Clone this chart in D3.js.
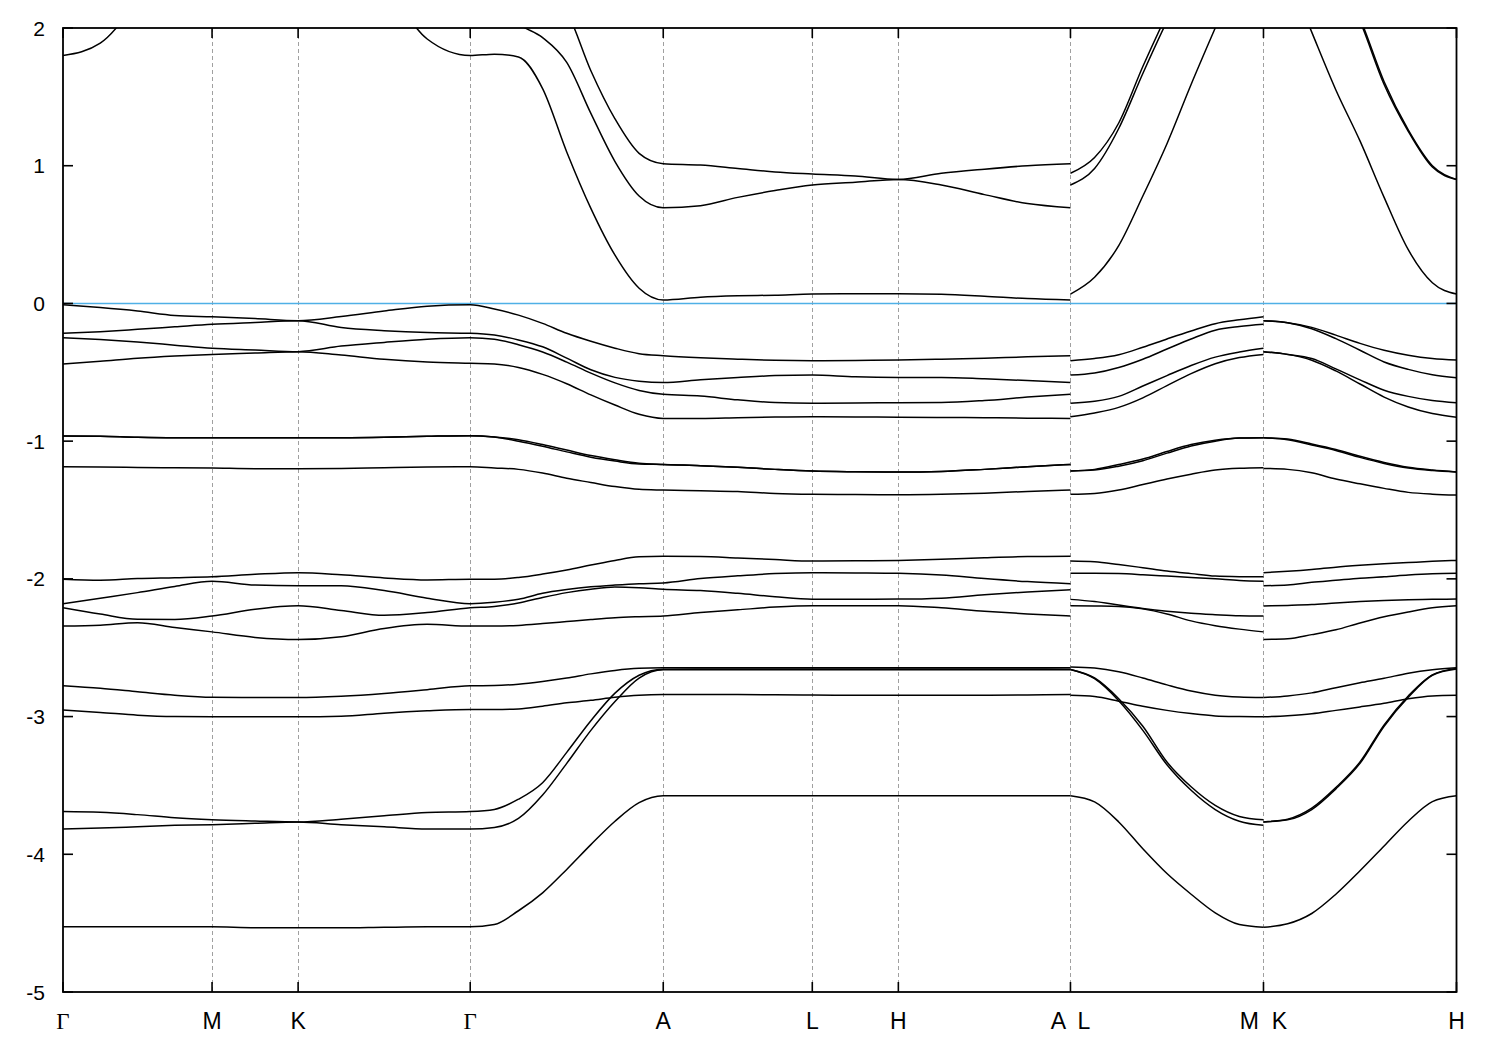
<!DOCTYPE html>
<html><head><meta charset="utf-8">
<script src="https://cdn.jsdelivr.net/npm/d3@7"></script>
<style>body{margin:0;background:#fff}</style>
</head><body>
<svg id="chart" width="1500" height="1050"></svg>
<script>
// High-symmetry points (path length, units of |Γ-M|)
const tickK = [0, 1.0, 1.5774, 2.7321, 4.0271, 5.0271, 5.6045, 6.7592, 8.0542, 9.3492];
const tickLabels = ["Γ","M","K","Γ","A","L","H","A  L","M  K","H"];
const yTicks = [2, 1, 0, -1, -2, -3, -4, -5];

// k sampling of the three continuous pieces of the path
const kPiece1 = [0, 0.25, 0.5, 0.75, 1.0, 1.2887, 1.5774, 1.8661, 2.1547, 2.4434, 2.7321,
  2.8940, 3.0558, 3.2177, 3.3796, 3.5415, 3.7034, 3.8652, 4.0271,
  4.2771, 4.5271, 4.7771, 5.0271, 5.3158, 5.6045, 5.8932, 6.1819, 6.4705, 6.7592];
const kPiece2 = [6.7592, 6.9211, 7.0830, 7.2448, 7.4067, 7.5686, 7.7305, 7.8923, 8.0542];
const kPiece3 = [8.0542, 8.2161, 8.3780, 8.5398, 8.7017, 8.8636, 9.0255, 9.1873, 9.3492];

// Band energies (eV): 29 values on piece 1, 9 on piece 2, 9 on piece 3
const bandC1 = [1.80,1.89,2.2,2.6,2.8,2.9,2.9,2.8,2.35,1.92,1.80,1.81,1.79,1.56,1.10,0.69,0.35,0.11,0.025,0.045,0.055,0.06,0.068,0.07,0.07,0.066,0.052,0.035,0.025,
  0.068,0.19,0.42,0.78,1.16,1.59,2.0,2.4,2.6,
  2.7,2.4,1.97,1.55,1.18,0.77,0.39,0.15,0.068];
const bandC2 = [2.6,2.7,2.9,3.0,3.0,3.0,3.0,2.9,2.7,2.45,2.3,2.2,2.03,1.93,1.75,1.38,1.03,0.78,0.695,0.71,0.77,0.82,0.86,0.88,0.90,0.86,0.79,0.725,0.695,
  0.86,0.98,1.27,1.67,2.05,2.4,2.7,2.9,3.0,
  3.2,3.0,2.7,2.4,2.05,1.59,1.25,0.99,0.90];
const bandC3 = [2.9,3.0,3.2,3.3,3.3,3.3,3.3,3.2,3.0,2.8,2.6,2.5,2.4,2.3,2.12,1.69,1.34,1.09,1.015,1.005,0.98,0.955,0.94,0.925,0.90,0.945,0.975,1.0,1.015,
  0.945,1.06,1.31,1.72,2.1,2.45,2.75,2.95,3.05,
  3.25,3.05,2.75,2.42,2.07,1.61,1.26,1.0,0.90];
const bandV1 = [-0.01,-0.03,-0.055,-0.087,-0.097,-0.11,-0.125,-0.095,-0.055,-0.02,-0.01,-0.04,-0.085,-0.145,-0.217,-0.275,-0.325,-0.365,-0.38,-0.395,-0.405,-0.413,-0.416,-0.414,-0.411,-0.405,-0.398,-0.388,-0.38,
  -0.416,-0.40,-0.372,-0.318,-0.258,-0.2,-0.147,-0.119,-0.097,
  -0.125,-0.14,-0.174,-0.23,-0.29,-0.34,-0.376,-0.4,-0.411];
const bandV2 = [-0.217,-0.205,-0.188,-0.17,-0.152,-0.138,-0.125,-0.175,-0.198,-0.212,-0.217,-0.23,-0.265,-0.315,-0.397,-0.482,-0.537,-0.565,-0.575,-0.555,-0.538,-0.524,-0.52,-0.533,-0.537,-0.537,-0.547,-0.56,-0.575,
  -0.52,-0.505,-0.465,-0.405,-0.331,-0.258,-0.195,-0.168,-0.152,
  -0.125,-0.14,-0.184,-0.256,-0.34,-0.425,-0.479,-0.518,-0.539];
const bandV3 = [-0.249,-0.262,-0.28,-0.303,-0.326,-0.338,-0.35,-0.31,-0.283,-0.26,-0.249,-0.26,-0.30,-0.353,-0.426,-0.506,-0.577,-0.632,-0.66,-0.673,-0.70,-0.72,-0.725,-0.723,-0.721,-0.72,-0.705,-0.68,-0.66,
  -0.725,-0.71,-0.675,-0.60,-0.524,-0.451,-0.39,-0.353,-0.326,
  -0.35,-0.37,-0.4,-0.475,-0.555,-0.63,-0.675,-0.705,-0.721];
const bandV4 = [-0.44,-0.42,-0.398,-0.382,-0.37,-0.36,-0.35,-0.375,-0.405,-0.425,-0.435,-0.44,-0.465,-0.515,-0.583,-0.664,-0.738,-0.805,-0.835,-0.835,-0.83,-0.825,-0.823,-0.825,-0.826,-0.828,-0.83,-0.833,-0.835,
  -0.823,-0.795,-0.755,-0.686,-0.597,-0.51,-0.438,-0.393,-0.37,
  -0.35,-0.37,-0.412,-0.49,-0.585,-0.68,-0.752,-0.8,-0.826];
const bandV5 = [-0.963,-0.965,-0.972,-0.975,-0.975,-0.975,-0.975,-0.975,-0.972,-0.965,-0.96,-0.97,-0.99,-1.025,-1.065,-1.105,-1.135,-1.16,-1.169,-1.178,-1.19,-1.205,-1.217,-1.222,-1.224,-1.22,-1.205,-1.186,-1.169,
  -1.217,-1.205,-1.17,-1.13,-1.075,-1.025,-0.993,-0.977,-0.975,
  -0.975,-0.985,-1.02,-1.06,-1.11,-1.155,-1.19,-1.21,-1.224];
const bandV5b = [-0.963,-0.965,-0.972,-0.975,-0.975,-0.975,-0.975,-0.975,-0.972,-0.965,-0.96,-0.97,-1.0,-1.037,-1.078,-1.117,-1.145,-1.166,-1.169,-1.178,-1.19,-1.205,-1.217,-1.222,-1.224,-1.22,-1.205,-1.186,-1.169,
  -1.217,-1.21,-1.182,-1.142,-1.087,-1.035,-1.0,-0.978,-0.975,
  -0.975,-0.99,-1.028,-1.068,-1.118,-1.162,-1.195,-1.213,-1.224];
const bandV6 = [-1.186,-1.188,-1.191,-1.193,-1.195,-1.2,-1.2,-1.198,-1.193,-1.188,-1.186,-1.195,-1.205,-1.232,-1.27,-1.3,-1.33,-1.35,-1.355,-1.36,-1.366,-1.38,-1.386,-1.388,-1.389,-1.386,-1.378,-1.365,-1.355,
  -1.386,-1.38,-1.355,-1.315,-1.275,-1.24,-1.21,-1.197,-1.193,
  -1.198,-1.205,-1.23,-1.275,-1.31,-1.343,-1.372,-1.385,-1.391];
const bandW1 = [-2.003,-2.01,-1.998,-1.992,-1.985,-1.967,-1.955,-1.97,-1.993,-2.008,-2.003,-2.003,-1.99,-1.965,-1.935,-1.9,-1.866,-1.84,-1.835,-1.837,-1.848,-1.86,-1.871,-1.869,-1.866,-1.858,-1.847,-1.838,-1.835,
  -1.871,-1.876,-1.896,-1.919,-1.943,-1.962,-1.98,-1.984,-1.985,
  -1.955,-1.945,-1.932,-1.915,-1.902,-1.891,-1.882,-1.873,-1.866];
const bandW2 = [-2.18,-2.14,-2.1,-2.055,-2.018,-2.045,-2.05,-2.05,-2.085,-2.14,-2.18,-2.17,-2.148,-2.105,-2.078,-2.058,-2.045,-2.035,-2.03,-1.998,-1.978,-1.962,-1.955,-1.957,-1.96,-1.972,-1.998,-2.02,-2.035,
  -1.96,-1.96,-1.962,-1.97,-1.98,-1.99,-2.0,-2.012,-2.018,
  -2.05,-2.045,-2.025,-2.01,-1.995,-1.985,-1.972,-1.963,-1.96];
const bandW3 = [-2.21,-2.256,-2.294,-2.295,-2.27,-2.22,-2.195,-2.23,-2.265,-2.245,-2.21,-2.2,-2.175,-2.135,-2.1,-2.075,-2.06,-2.065,-2.076,-2.085,-2.105,-2.13,-2.148,-2.148,-2.147,-2.14,-2.115,-2.095,-2.08,
  -2.149,-2.165,-2.19,-2.215,-2.235,-2.25,-2.26,-2.268,-2.27,
  -2.197,-2.193,-2.187,-2.175,-2.165,-2.158,-2.152,-2.148,-2.147];
const bandW4 = [-2.343,-2.336,-2.318,-2.353,-2.385,-2.425,-2.44,-2.42,-2.36,-2.33,-2.343,-2.343,-2.338,-2.325,-2.31,-2.295,-2.282,-2.275,-2.27,-2.245,-2.225,-2.205,-2.195,-2.195,-2.195,-2.21,-2.235,-2.255,-2.27,
  -2.195,-2.197,-2.2,-2.218,-2.255,-2.305,-2.34,-2.365,-2.385,
  -2.44,-2.435,-2.405,-2.37,-2.32,-2.275,-2.24,-2.21,-2.195];
const bandX1 = [-2.776,-2.795,-2.82,-2.845,-2.86,-2.862,-2.862,-2.852,-2.832,-2.805,-2.776,-2.775,-2.765,-2.745,-2.72,-2.69,-2.665,-2.65,-2.646,-2.645,-2.645,-2.645,-2.645,-2.645,-2.645,-2.645,-2.645,-2.645,-2.646,
  -2.64,-2.648,-2.675,-2.72,-2.77,-2.815,-2.845,-2.858,-2.862,
  -2.862,-2.85,-2.828,-2.79,-2.755,-2.722,-2.685,-2.66,-2.646];
const bandX2 = [-2.953,-2.97,-2.99,-3.0,-3.002,-3.002,-3.002,-2.998,-2.975,-2.958,-2.948,-2.948,-2.945,-2.925,-2.9,-2.882,-2.86,-2.845,-2.84,-2.84,-2.84,-2.842,-2.844,-2.845,-2.846,-2.846,-2.845,-2.843,-2.84,
  -2.846,-2.855,-2.888,-2.925,-2.955,-2.978,-2.995,-3.0,-3.002,
  -3.002,-2.994,-2.98,-2.955,-2.93,-2.903,-2.87,-2.85,-2.846];
const bandY1 = [-3.69,-3.695,-3.712,-3.735,-3.749,-3.758,-3.765,-3.745,-3.72,-3.697,-3.69,-3.674,-3.60,-3.48,-3.26,-3.03,-2.83,-2.7,-2.656,-2.655,-2.655,-2.655,-2.655,-2.655,-2.655,-2.655,-2.655,-2.655,-2.656,
  -2.658,-2.72,-2.87,-3.07,-3.33,-3.51,-3.645,-3.725,-3.749,
  -3.765,-3.745,-3.665,-3.515,-3.33,-3.06,-2.85,-2.697,-2.65];
const bandY2 = [-3.816,-3.81,-3.8,-3.79,-3.785,-3.775,-3.765,-3.785,-3.8,-3.816,-3.816,-3.805,-3.74,-3.57,-3.34,-3.10,-2.89,-2.72,-2.66,-2.66,-2.66,-2.66,-2.66,-2.66,-2.66,-2.66,-2.66,-2.66,-2.66,
  -2.658,-2.725,-2.885,-3.1,-3.35,-3.535,-3.675,-3.76,-3.79,
  -3.765,-3.75,-3.675,-3.525,-3.34,-3.07,-2.86,-2.70,-2.655];
const bandZ = [-4.527,-4.527,-4.527,-4.527,-4.527,-4.534,-4.534,-4.534,-4.53,-4.527,-4.527,-4.51,-4.41,-4.28,-4.11,-3.93,-3.76,-3.625,-3.575,-3.575,-3.575,-3.575,-3.575,-3.575,-3.575,-3.575,-3.575,-3.575,-3.575,
  -3.575,-3.62,-3.765,-3.96,-4.14,-4.29,-4.425,-4.51,-4.53,
  -4.53,-4.505,-4.43,-4.29,-4.12,-3.94,-3.76,-3.618,-3.575];

const bands = [bandC1, bandC2, bandC3, bandV1, bandV2, bandV3, bandV4, bandV5, bandV5b, bandV6,
  bandW1, bandW2, bandW3, bandW4, bandX1, bandX2, bandY1, bandY2, bandZ];

const fermiLevel = 0;

// ---------- drawing ----------
(function draw() {
  const svg = d3.select("#chart");
  const pL = 63, pR = 1456.5, pT = 28, pB = 992;
  const x = d3.scaleLinear().domain([tickK[0], tickK[tickK.length - 1]]).range([pL, pR]);
  const y = d3.scaleLinear().domain([-5, 2]).range([pB, pT]);

  svg.append("rect").attr("width", 1500).attr("height", 1050).attr("fill", "#fff");

  svg.append("defs").append("clipPath").attr("id", "plotclip")
    .append("rect").attr("x", pL).attr("y", pT).attr("width", pR - pL).attr("height", pB - pT);

  // dashed vertical lines at internal high-symmetry points
  svg.append("g").selectAll("line").data(tickK.slice(1, -1)).join("line")
    .attr("x1", d => Math.round(x(d)) + 0.5).attr("x2", d => Math.round(x(d)) + 0.5)
    .attr("y1", pT).attr("y2", pB)
    .attr("stroke", "#a0a0a0").attr("stroke-width", 1).attr("stroke-dasharray", "4,3");

  // Fermi level
  svg.append("line")
    .attr("x1", pL).attr("x2", pR).attr("y1", y(fermiLevel)).attr("y2", y(fermiLevel))
    .attr("stroke", "#4fb0e6").attr("stroke-width", 1.6);

  // bands
  const pieces = [[kPiece1, 0], [kPiece2, kPiece1.length], [kPiece3, kPiece1.length + kPiece2.length]];
  const line = d3.line().x(d => x(d[0])).y(d => y(d[1])).curve(d3.curveMonotoneX);
  const gb = svg.append("g").attr("clip-path", "url(#plotclip)");
  bands.forEach(b => {
    pieces.forEach(([ks, off]) => {
      const pts = ks.map((k, i) => [k, b[off + i]]);
      gb.append("path").attr("d", line(pts)).attr("fill", "none")
        .attr("stroke", "#000").attr("stroke-width", 1.5).attr("stroke-linejoin", "round");
    });
  });

  // frame
  svg.append("rect").attr("x", pL).attr("y", pT).attr("width", pR - pL).attr("height", pB - pT)
    .attr("fill", "none").attr("stroke", "#000").attr("stroke-width", 1.8);

  // y ticks (left & right, inward) and labels
  const gy = svg.append("g");
  yTicks.forEach(v => {
    gy.append("line").attr("x1", pL).attr("x2", pL + 10).attr("y1", y(v)).attr("y2", y(v))
      .attr("stroke", "#000").attr("stroke-width", 1.6);
    gy.append("line").attr("x1", pR - 10).attr("x2", pR).attr("y1", y(v)).attr("y2", y(v))
      .attr("stroke", "#000").attr("stroke-width", 1.6);
    gy.append("text").attr("x", 45).attr("y", y(v) + 7.5).attr("text-anchor", "end")
      .attr("font-family", "Liberation Sans, Arial, sans-serif").attr("font-size", 21).text(v);
  });

  // x ticks (top & bottom, inward) and labels
  const gx = svg.append("g");
  tickK.forEach((k, i) => {
    const px = x(k);
    gx.append("line").attr("x1", px).attr("x2", px).attr("y1", pB).attr("y2", pB - 10)
      .attr("stroke", "#000").attr("stroke-width", 1.6);
    gx.append("line").attr("x1", px).attr("x2", px).attr("y1", pT).attr("y2", pT + 10)
      .attr("stroke", "#000").attr("stroke-width", 1.6);
    const lab = tickLabels[i];
    gx.append("text").attr("x", px).attr("y", 1029).attr("text-anchor", "middle")
      .attr("font-family", lab === "Γ" ? "Liberation Serif, Times New Roman, serif" : "Liberation Sans, Arial, sans-serif")
      .attr("font-size", 23).style("white-space", "pre").text(lab);
  });
})();
</script>
</body></html>
